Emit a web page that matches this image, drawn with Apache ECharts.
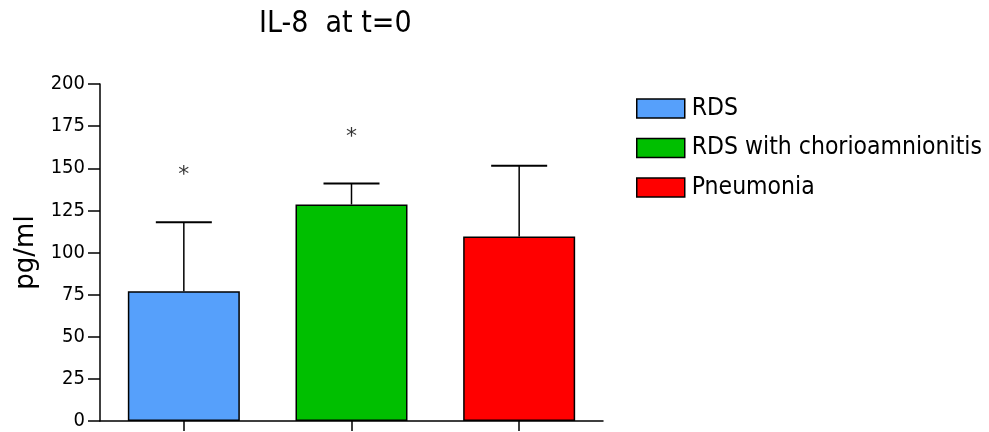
<!DOCTYPE html>
<html>
<head>
<meta charset="utf-8">
<script src="https://cdn.jsdelivr.net/npm/echarts@6/dist/echarts.min.js"></script>
<style>
  html, body { margin: 0; padding: 0; background: #fff; }
  #chart { width: 989px; height: 432px; }
</style>
</head>
<body>
<div id="chart"></div>
<script>
// Group means and upper error (SD) for IL-8 at t=0
const groups = ['RDS', 'RDS with chorioamnionitis', 'Pneumonia'];
const means = [77, 128.5, 109.5];
const errors = [41, 12.5, 42];
const sigMarks = ['*', '*', ''];
const sigLevels = [148, 171, null];
const yTicks = [0, 25, 50, 75, 100, 125, 150, 175, 200];

const colors = ['#56a0fb', '#00bf00', '#ff0000'];
const FONT = '"DejaVu Sans Condensed", "DejaVu Sans", sans-serif';
const NAME_FONT = '"DejaVu Sans", sans-serif';

const chart = echarts.init(document.getElementById('chart'), null, { renderer: 'canvas' });

// one bar series per group so each gets its own legend entry
const barSeries = groups.map((g, i) => ({
  name: g,
  type: 'bar',
  barWidth: 112,
  barGap: '-100%',
  data: groups.map((_, j) => (j === i ? means[i] : '-')),
  itemStyle: { color: colors[i], borderColor: '#000', borderWidth: 1.5 },
  z: 2
}));

const errSeries = {
  type: 'custom',
  name: 'err',
  z: 3,
  data: groups.map((_, i) => [i, means[i], means[i] + errors[i]]),
  encode: { x: 0, y: [1, 2] },
  renderItem: function (params, api) {
    const i = api.value(0);
    const base = api.coord([i, api.value(1)]);
    const top = api.coord([i, api.value(2)]);
    const half = 28;
    return {
      type: 'group',
      children: [
        { type: 'line', shape: { x1: base[0], y1: base[1], x2: top[0], y2: top[1] },
          style: { stroke: '#000', lineWidth: 1.5 } },
        { type: 'line', shape: { x1: top[0] - half, y1: top[1], x2: top[0] + half, y2: top[1] },
          style: { stroke: '#000', lineWidth: 2 } }
      ]
    };
  }
};

const sigSeries = {
  type: 'scatter',
  name: 'sig',
  symbolSize: 0,
  z: 4,
  data: groups.map((_, i) => (sigLevels[i] == null ? '-' : sigLevels[i])),
  label: {
    show: true,
    position: 'inside',
    formatter: p => sigMarks[p.dataIndex],
    fontFamily: NAME_FONT,
    fontSize: 22,
    color: '#000',
    offset: [0, 4]
  }
};

chart.setOption({
  animation: false,
  backgroundColor: '#fff',
  title: {
    text: 'IL-8  at t=0',
    left: 254,
    top: 4,
    textStyle: { fontFamily: FONT, fontSize: 30, fontWeight: 'normal', color: '#000' }
  },
  legend: {
    data: groups,
    orient: 'vertical',
    left: 631,
    top: 91,
    itemWidth: 48,
    itemHeight: 19,
    itemGap: 14.5,
    icon: 'rect',
    selectedMode: false,
    itemStyle: { borderColor: '#000', borderWidth: 1.5 },
    textStyle: { fontFamily: FONT, fontSize: 24.5, color: '#000', padding: [0, 0, 0, 2] }
  },
  grid: { left: 100, right: 386, top: 84, bottom: 11, containLabel: false },
  xAxis: {
    type: 'category',
    data: groups,
    boundaryGap: true,
    axisLine: { lineStyle: { color: '#000', width: 1.5 } },
    axisTick: { show: true, alignWithLabel: true, interval: 0, length: 10, lineStyle: { color: '#000', width: 1.5 } },
    axisLabel: { show: false, interval: 0 },
    splitLine: { show: false }
  },
  yAxis: {
    type: 'value',
    min: yTicks[0],
    max: yTicks[yTicks.length - 1],
    interval: yTicks[1] - yTicks[0],
    name: 'pg/ml',
    nameLocation: 'middle',
    nameGap: 61,
    nameRotate: 90,
    nameTextStyle: { fontFamily: NAME_FONT, fontSize: 26, color: '#000' },
    axisLine: { show: true, lineStyle: { color: '#000', width: 1.5 } },
    axisTick: { show: true, length: 12, lineStyle: { color: '#000', width: 1.5 } },
    axisLabel: { fontFamily: FONT, fontSize: 20, color: '#000', margin: 15 },
    splitLine: { show: false }
  },
  series: [...barSeries, errSeries, sigSeries]
});
</script>
</body>
</html>
